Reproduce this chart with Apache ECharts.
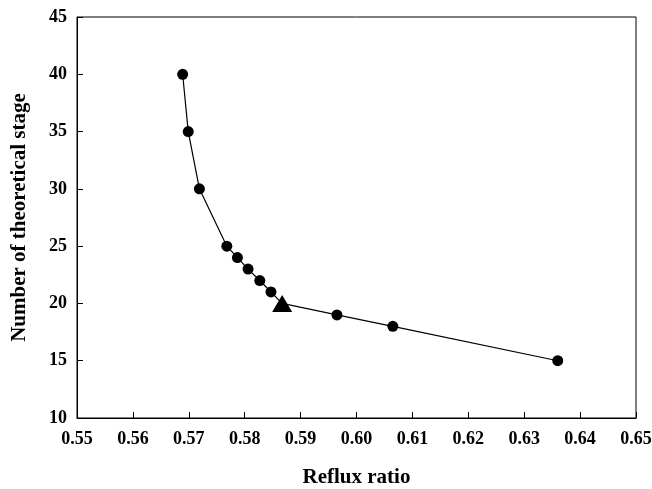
<!DOCTYPE html>
<html>
<head>
<meta charset="utf-8">
<script src="https://cdn.jsdelivr.net/npm/echarts@6/dist/echarts.min.js"></script>
<style>html,body{margin:0;padding:0;background:#fff}#c{width:652px;height:489px}</style>
</head>
<body>
<div id="c"></div>
<script>
const refluxRatio = [0.5689, 0.5699, 0.5719, 0.5768, 0.5787, 0.5806, 0.5827, 0.5847, 0.5867, 0.5965, 0.6065, 0.6360];
const stages      = [40, 35, 30, 25, 24, 23, 22, 21, 20, 19, 18, 15];
const triangleIndex = 8;
const xTickLabels = ['0.55','0.56','0.57','0.58','0.59','0.60','0.61','0.62','0.63','0.64','0.65'];
const yTickLabels = ['10','15','20','25','30','35','40','45'];

const font = '"Liberation Serif", "Times New Roman", serif';
const chart = echarts.init(document.getElementById('c'));
const data = refluxRatio.map((x, i) => {
  const d = {value: [x, stages[i]]};
  if (i === triangleIndex) { d.symbol = 'triangle'; d.symbolSize = [20, 17]; }
  return d;
});
chart.setOption({
  animation: false,
  backgroundColor: '#fff',
  grid: {left: 77, right: 16, top: 17, bottom: 71, show: true, borderColor: '#000', borderWidth: 1,
    containLabel: false, outerBoundsMode: 'none'},
  xAxis: {
    type: 'value', min: 0.55, max: 0.65, interval: 0.01,
    name: 'Reflux ratio', nameLocation: 'middle', nameGap: 49,
    nameTextStyle: {fontFamily: font, fontWeight: 'bold', fontSize: 21, color: '#000'},
    axisLine: {lineStyle: {color: '#000', width: 1}},
    axisTick: {inside: true, length: 6, lineStyle: {color: '#000'}},
    axisLabel: {fontFamily: font, fontWeight: 'bold', fontSize: 18, color: '#000', margin: 12,
      formatter: (v) => xTickLabels[Math.round((v - 0.55) / 0.01)] || ''},
    splitLine: {show: false}
  },
  yAxis: {
    type: 'value', min: 10, max: 45, interval: 5,
    name: 'Number of theoretical stage', nameLocation: 'middle', nameGap: 47,
    nameTextStyle: {fontFamily: font, fontWeight: 'bold', fontSize: 21, color: '#000'},
    axisLine: {lineStyle: {color: '#000', width: 1}},
    axisTick: {inside: true, length: 6, lineStyle: {color: '#000'}},
    axisLabel: {fontFamily: font, fontWeight: 'bold', fontSize: 18, color: '#000', margin: 10,
      formatter: (v) => yTickLabels[Math.round((v - 10) / 5)] || ''},
    splitLine: {show: false}
  },
  series: [{
    type: 'line', data: data, symbol: 'circle', symbolSize: 11,
    lineStyle: {color: '#000', width: 1.2},
    itemStyle: {color: '#000'}
  }]
});
</script>
</body>
</html>
